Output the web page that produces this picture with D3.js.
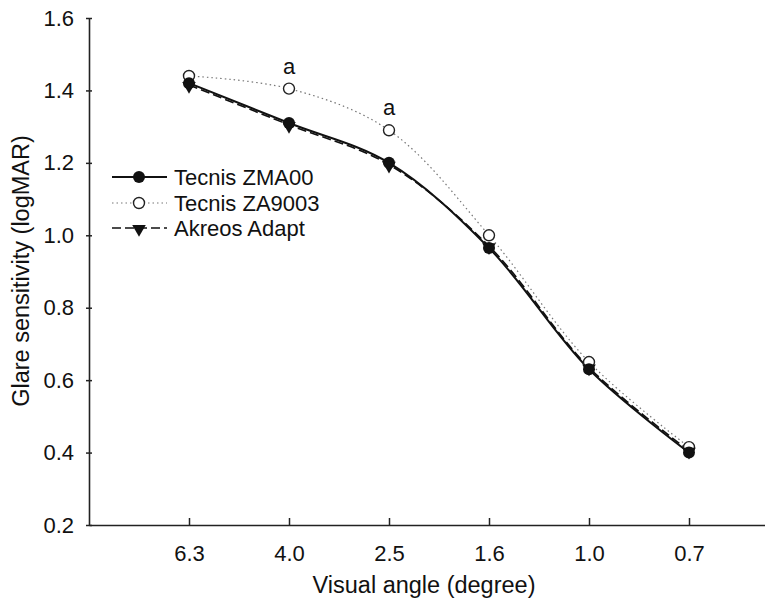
<!DOCTYPE html>
<html><head><meta charset="utf-8">
<script src="https://cdn.jsdelivr.net/npm/d3@7/dist/d3.min.js"></script>
<style>body{margin:0;background:#fff}svg{display:block}text{font-family:"Liberation Sans",Arial,sans-serif;fill:#111}</style>
</head><body>
<svg id="c" width="765" height="602"></svg>
<script>
const categories = ["6.3","4.0","2.5","1.6","1.0","0.7"];
const zma00 = [1.42, 1.31, 1.20, 0.965, 0.63, 0.40];
const za9003 = [1.44, 1.405, 1.29, 1.00, 0.65, 0.415];
const akreos = [1.415, 1.305, 1.195, 0.97, 0.635, 0.405];
const seriesNames = ["Tecnis ZMA00","Tecnis ZA9003","Akreos Adapt"];
const yTicks = [0.2,0.4,0.6,0.8,1.0,1.2,1.4,1.6];
const sigLabels = [{cat:"4.0", text:"a"},{cat:"2.5", text:"a"}];

const svg = d3.select("#c");
const x = d3.scalePoint().domain(categories).range([89, 789]).padding(1);
const y = d3.scaleLinear().domain([0.2,1.6]).range([525,18]);

// axes
const xa = svg.append("g").attr("transform","translate(0,525)")
  .call(d3.axisBottom(x).tickSizeInner(-7).tickSizeOuter(0));
xa.select(".domain").attr("stroke","#222").attr("stroke-width",1.6);
xa.selectAll(".tick line").attr("stroke","#222").attr("stroke-width",1.5);
xa.selectAll("text").attr("font-size",22).attr("y",28).attr("dy","0.35em");

const ya = svg.append("g").attr("transform","translate(89,0)")
  .call(d3.axisLeft(y).tickValues(yTicks).tickFormat(d3.format(".1f")).tickSizeInner(3).tickSizeOuter(0));
ya.select(".domain").attr("stroke","#222").attr("stroke-width",1.6);
ya.selectAll(".tick line").attr("stroke","#222").attr("stroke-width",1.5).attr("x1",-3).attr("x2",3);
ya.selectAll("text").attr("font-size",22).attr("x",-15);

svg.append("text").attr("x",424).attr("y",593).attr("text-anchor","middle").attr("font-size",23.5).text("Visual angle (degree)");
svg.append("text").attr("transform","translate(29,271) rotate(-90)").attr("text-anchor","middle").attr("font-size",23.5).text("Glare sensitivity (logMAR)");

const series = [
  {name:seriesNames[0], vals:zma00, stroke:"#111", w:2, dash:null, marker:"fcircle"},
  {name:seriesNames[1], vals:za9003, stroke:"#777", w:1.2, dash:"1.5,3", marker:"ocircle"},
  {name:seriesNames[2], vals:akreos, stroke:"#111", w:1.6, dash:"9,4", marker:"tri"}
];

const line = d3.line().x((d,i)=>x(categories[i])).y(d=>y(d)).curve(d3.curveCatmullRom.alpha(0.5));
const triPath = d3.symbol().type(d3.symbolTriangle).size(80);

function drawMarker(g, kind, cx, cy){
  if(kind==="fcircle") g.append("circle").attr("cx",cx).attr("cy",cy).attr("r",6).attr("fill","#111");
  else if(kind==="ocircle") g.append("circle").attr("cx",cx).attr("cy",cy).attr("r",5.5).attr("fill","#fff").attr("stroke","#222").attr("stroke-width",1.4);
  else g.append("path").attr("d",triPath()).attr("transform",`translate(${cx},${cy+1}) rotate(180)`).attr("fill","#111");
}

// lines
[series[1],series[2],series[0]].forEach(s=>{
  svg.append("path").datum(s.vals).attr("d",line).attr("fill","none")
    .attr("stroke",s.stroke).attr("stroke-width",s.w).attr("stroke-dasharray",s.dash);
});
// markers: open circles under filled ones
const mg = svg.append("g");
[series[1],series[0],series[2]].forEach(s=>{
  s.vals.forEach((v,i)=>drawMarker(mg, s.marker, x(categories[i]), y(v)));
});

// significance labels
sigLabels.forEach(l=>{
  const i = categories.indexOf(l.cat);
  svg.append("text").attr("x",x(l.cat)).attr("y",y(za9003[i])-15).attr("text-anchor","middle").attr("font-size",22).text(l.text);
});

// legend
const lg = svg.append("g");
const rows = [177,203,228];
series.forEach((s,k)=>{
  lg.append("line").attr("x1",112).attr("x2",167).attr("y1",rows[k]).attr("y2",rows[k])
    .attr("stroke",s.stroke).attr("stroke-width",s.w).attr("stroke-dasharray",s.dash);
  drawMarker(lg, s.marker, 139, rows[k]);
  lg.append("text").attr("x",174).attr("y",rows[k]).attr("dy","0.36em").attr("font-size",22).text(s.name);
});
</script>
</body></html>
